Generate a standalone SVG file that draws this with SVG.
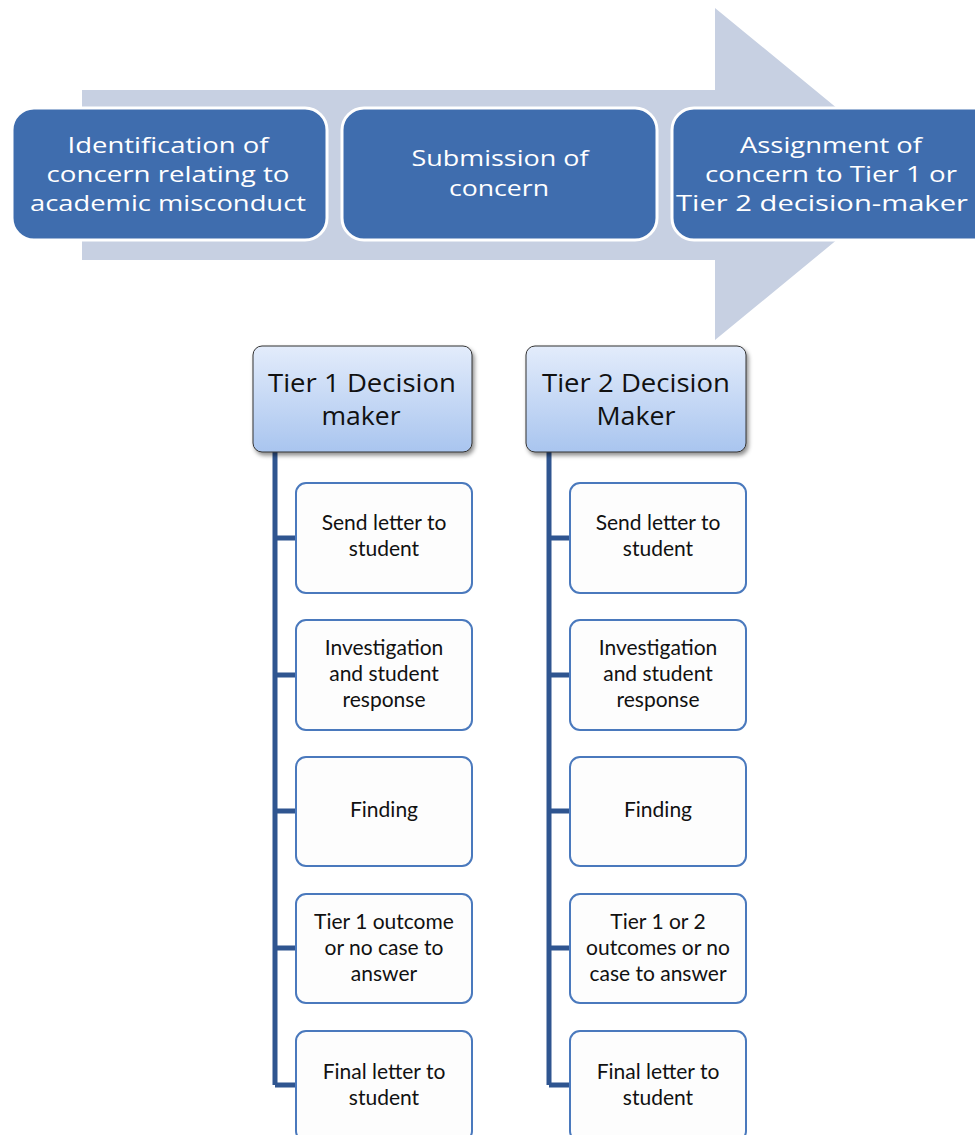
<svg xmlns="http://www.w3.org/2000/svg" width="975" height="1135" viewBox="0 0 975 1135">
<defs>
<linearGradient id="hg" x1="0" y1="0" x2="0" y2="1">
<stop offset="0" stop-color="#e3ecfb"/>
<stop offset="1" stop-color="#a9c5ef"/>
</linearGradient>
<filter id="sh" x="-10%" y="-10%" width="125%" height="130%">
<feDropShadow dx="2" dy="3" stdDeviation="2" flood-color="#000" flood-opacity="0.45"/>
</filter>
</defs>
<style>
.step{fill:#3f6dae;stroke:#ffffff;stroke-width:3}
.stept{fill:#ffffff;font-family:"Open Sans",sans-serif;font-size:22px;text-anchor:middle}
.hdr{fill:url(#hg);stroke:#333;stroke-width:1}
.hdrt{fill:#111;font-family:"Open Sans",sans-serif;font-size:25px;text-anchor:middle}
.child{fill:#fdfdfd;stroke:#4a79bd;stroke-width:2}
.childt{fill:#111;font-family:Lato,"Open Sans",sans-serif;font-size:21px;text-anchor:middle}
.tree{fill:none;stroke:#2f5590;stroke-width:5}
</style>
<g id="arrow">
<polygon points="82,90 715,90 715,8 917,174 715,340 715,260 82,260" fill="#c7d0e2"/>
</g>
<g id="step1">
<rect class="step" x="12" y="108" width="315" height="132" rx="22"/>
<text class="stept"><tspan x="168" y="153" textLength="201" lengthAdjust="spacingAndGlyphs">Identification of</tspan><tspan x="168" y="182" textLength="243" lengthAdjust="spacingAndGlyphs">concern relating to</tspan><tspan x="168" y="211" textLength="276" lengthAdjust="spacingAndGlyphs">academic misconduct</tspan></text>
</g>
<g id="step2">
<rect class="step" x="342" y="108" width="315" height="132" rx="22"/>
<text class="stept"><tspan x="500" y="166" textLength="177" lengthAdjust="spacingAndGlyphs">Submission of</tspan><tspan x="499" y="196" textLength="100" lengthAdjust="spacingAndGlyphs">concern</tspan></text>
</g>
<g id="step3">
<rect class="step" x="672" y="108" width="330" height="132" rx="22"/>
<text class="stept"><tspan x="831" y="153" textLength="182" lengthAdjust="spacingAndGlyphs">Assignment of</tspan><tspan x="831" y="182" textLength="252" lengthAdjust="spacingAndGlyphs">concern to Tier 1 or</tspan><tspan x="822" y="211" textLength="292" lengthAdjust="spacingAndGlyphs">Tier 2 decision-maker</tspan></text>
</g>
<g id="connectors">
<path class="tree" d="M275,452 V1085 M275,538 H296 M275,675 H296 M275,811 H296 M275,948 H296 M275,1085 H296"/>
<path class="tree" d="M549,452 V1085 M549,538 H570 M549,675 H570 M549,811 H570 M549,948 H570 M549,1085 H570"/>
</g>
<g id="tier1">
<rect class="hdr" x="253" y="346" width="219" height="106" rx="9" filter="url(#sh)"/>
<text class="hdrt"><tspan x="362" y="392" textLength="188" lengthAdjust="spacingAndGlyphs">Tier 1 Decision</tspan><tspan x="361" y="425" textLength="79" lengthAdjust="spacingAndGlyphs">maker</tspan></text>
</g>
<g id="tier2">
<rect class="hdr" x="526" y="346" width="220" height="106" rx="9" filter="url(#sh)"/>
<text class="hdrt"><tspan x="636" y="392" textLength="188" lengthAdjust="spacingAndGlyphs">Tier 2 Decision</tspan><tspan x="636" y="425" textLength="79" lengthAdjust="spacingAndGlyphs">Maker</tspan></text>
</g>
<g id="t1c1"><rect class="child" x="296" y="483" width="176" height="110" rx="10"/>
<text class="childt"><tspan x="384" y="530">Send letter to</tspan><tspan x="384" y="556">student</tspan></text></g>
<g id="t1c2"><rect class="child" x="296" y="620" width="176" height="110" rx="10"/>
<text class="childt"><tspan x="384" y="655">Investigation</tspan><tspan x="384" y="681">and student</tspan><tspan x="384" y="707">response</tspan></text></g>
<g id="t1c3"><rect class="child" x="296" y="757" width="176" height="109" rx="10"/>
<text class="childt"><tspan x="384" y="817">Finding</tspan></text></g>
<g id="t1c4"><rect class="child" x="296" y="894" width="176" height="109" rx="10"/>
<text class="childt"><tspan x="384" y="929">Tier 1 outcome</tspan><tspan x="384" y="955">or no case to</tspan><tspan x="384" y="981">answer</tspan></text></g>
<g id="t1c5"><rect class="child" x="296" y="1031" width="176" height="110" rx="10"/>
<text class="childt"><tspan x="384" y="1079">Final letter  to</tspan><tspan x="384" y="1105">student</tspan></text></g>
<g id="t2c1"><rect class="child" x="570" y="483" width="176" height="110" rx="10"/>
<text class="childt"><tspan x="658" y="530">Send letter to</tspan><tspan x="658" y="556">student</tspan></text></g>
<g id="t2c2"><rect class="child" x="570" y="620" width="176" height="110" rx="10"/>
<text class="childt"><tspan x="658" y="655">Investigation</tspan><tspan x="658" y="681">and student</tspan><tspan x="658" y="707">response</tspan></text></g>
<g id="t2c3"><rect class="child" x="570" y="757" width="176" height="109" rx="10"/>
<text class="childt"><tspan x="658" y="817">Finding</tspan></text></g>
<g id="t2c4"><rect class="child" x="570" y="894" width="176" height="109" rx="10"/>
<text class="childt"><tspan x="658" y="929">Tier 1 or 2</tspan><tspan x="658" y="955">outcomes or no</tspan><tspan x="658" y="981">case to answer</tspan></text></g>
<g id="t2c5"><rect class="child" x="570" y="1031" width="176" height="110" rx="10"/>
<text class="childt"><tspan x="658" y="1079">Final letter  to</tspan><tspan x="658" y="1105">student</tspan></text></g>
</svg>
